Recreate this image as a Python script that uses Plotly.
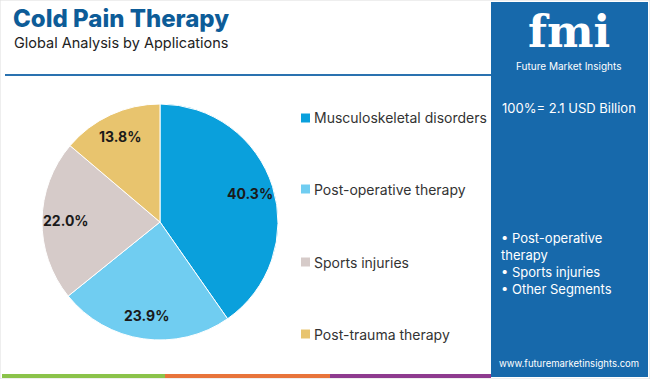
import math
import plotly.graph_objects as go

# ---- data ----
labels = ["Musculoskeletal disorders", "Post-operative therapy", "Sports injuries", "Post-trauma therapy"]
values = [40.3, 23.9, 22.0, 13.8]
colors = ["#0aa0dc", "#70cdf1", "#d6cbc9", "#e8c46e"]
title = "Cold Pain Therapy"
subtitle = "Global Analysis by Applications"
market_size = "100%= 2.1 USD Billion"
other_segments = ["Post-operative<br>therapy", "Sports injuries", "Other Segments"]
url = "www.futuremarketinsights.com"

W, H = 650, 379
FONT = "Inter"

def px(x):
    return x / W

def py(y):
    return 1 - y / H

# pie geometry (pixels)
CX, CY, R = 160, 222, 118

fig = go.Figure()
fig.add_trace(go.Pie(
    labels=labels, values=values,
    marker=dict(colors=colors, line=dict(color="white", width=1)),
    sort=False, direction="clockwise", rotation=0,
    textinfo="none",
    domain=dict(x=[px(CX - R), px(CX + R)], y=[py(CY + R), py(CY - R)]),
    showlegend=False, hoverinfo="label+percent",
))

shapes = []
annotations = []

# percentage labels placed at the mid-angle of each slice
total = sum(values)
cum = 0.0
for v in values:
    mid = (cum + v / 2) / total * 2 * math.pi
    cum += v
    lx = CX + 0.8 * R * math.sin(mid)
    ly = CY - 0.8 * R * math.cos(mid)
    annotations.append(dict(text=f"<b>{v:.1f}%</b>", x=px(lx), y=py(ly), xref="paper", yref="paper",
                            xanchor="center", yanchor="middle", showarrow=False,
                            font=dict(family=FONT, size=14, color="#1a1a1a", weight=800)))

# outer light border
shapes.append(dict(type="rect", xref="paper", yref="paper", x0=0, x1=1, y0=0, y1=1,
                   line=dict(color="#dddddd", width=1), fillcolor="rgba(0,0,0,0)", layer="below"))
# header line
shapes.append(dict(type="line", xref="paper", yref="paper", x0=px(5), x1=px(491), y0=py(75), y1=py(75),
                   line=dict(color="#2a72b0", width=2)))
# right panel
shapes.append(dict(type="rect", xref="paper", yref="paper", x0=px(491), x1=px(648), y0=py(377), y1=py(2),
                   fillcolor="#1769ab", line=dict(width=0), layer="below"))
# bottom stripes
for x0, x1, c in [(2, 165, "#8bc34a"), (165, 330, "#e8743b"), (330, 491, "#8e3b8f")]:
    shapes.append(dict(type="rect", xref="paper", yref="paper", x0=px(x0), x1=px(x1), y0=py(378), y1=py(374),
                       fillcolor=c, line=dict(width=0)))

# titles
annotations.append(dict(text=title, x=px(11), y=py(18), xref="paper", yref="paper",
                        xanchor="left", yanchor="middle", showarrow=False,
                        font=dict(family=FONT, size=24, color="#0d5c98", weight=800)))
annotations.append(dict(text=subtitle, x=px(12), y=py(42), xref="paper", yref="paper",
                        xanchor="left", yanchor="middle", showarrow=False,
                        font=dict(family=FONT, size=14.5, color="#222222")))

# legend (custom)
leg_y = [118, 189, 262, 334]
for lab, col, yy in zip(labels, colors, leg_y):
    shapes.append(dict(type="rect", xref="paper", yref="paper", x0=px(301), x1=px(310),
                       y0=py(yy + 4.5), y1=py(yy - 4.5), fillcolor=col, line=dict(width=0)))
    annotations.append(dict(text=lab, x=px(312), y=py(yy), xref="paper", yref="paper",
                            xanchor="left", yanchor="middle", showarrow=False,
                            font=dict(family=FONT, size=14, color="#333333")))

# right panel texts
annotations.append(dict(text="<b>fmi</b>", x=px(569), y=py(31), xref="paper", yref="paper",
                        xanchor="center", yanchor="middle", showarrow=False,
                        font=dict(family="DejaVu Serif", size=44, color="white")))
annotations.append(dict(text="Future Market Insights", x=px(568), y=py(66), xref="paper", yref="paper",
                        xanchor="center", yanchor="middle", showarrow=False,
                        font=dict(family=FONT, size=10, color="white")))
annotations.append(dict(text=market_size, x=px(569), y=py(108), xref="paper", yref="paper",
                        xanchor="center", yanchor="middle", showarrow=False,
                        font=dict(family=FONT, size=13, color="white")))
seg_text = "<br>".join("• " + s for s in other_segments)
annotations.append(dict(text=seg_text, x=px(499), y=py(228), xref="paper", yref="paper",
                        xanchor="left", yanchor="top", align="left", showarrow=False,
                        font=dict(family=FONT, size=13, color="white")))
annotations.append(dict(text=url, x=px(569), y=py(363), xref="paper", yref="paper",
                        xanchor="center", yanchor="middle", showarrow=False,
                        font=dict(family=FONT, size=9.5, color="white")))

fig.update_layout(
    width=W, height=H,
    margin=dict(l=0, r=0, t=0, b=0),
    paper_bgcolor="white", plot_bgcolor="white",
    shapes=shapes, annotations=annotations,
    showlegend=False,
)

fig.write_html("out.html", config={"displayModeBar": False},
               post_script="document.body.style.margin='0';")
